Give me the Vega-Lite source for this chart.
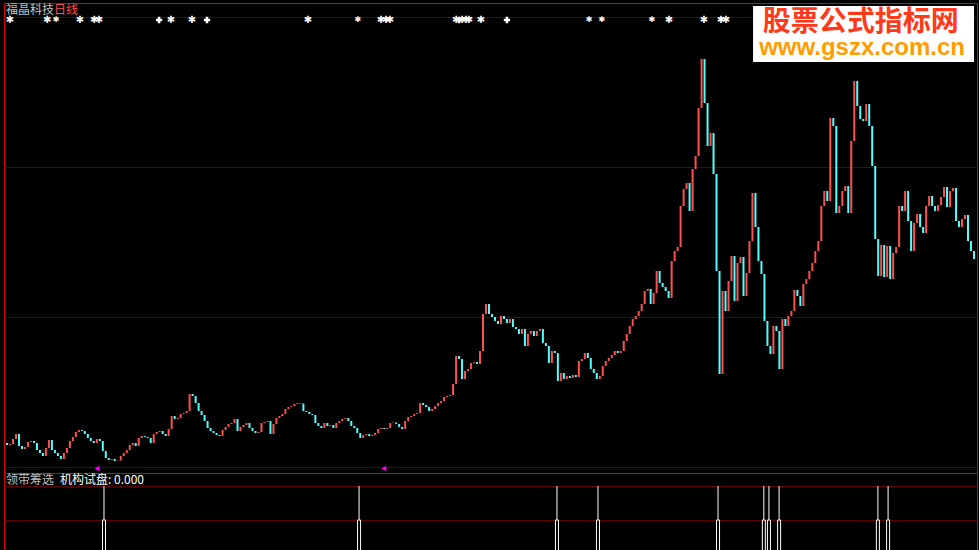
{
"$schema": "https://vega.github.io/schema/vega-lite/v6.json",
"background": "#000000",
"padding": {"left": 3, "top": 2, "right": 2, "bottom": 0},
"spacing": 0,
"bounds": "flush",
"config": {"view": {"stroke": "#e00000", "strokeWidth": 1}, "text": {"font": "Noto Sans CJK SC"}},
"datasets": {
"price": [
{"d":0,"c":5.4},{"d":1,"c":5.2},{"d":2,"c":5.3},{"d":3,"c":5.8},{"d":4,"c":6.3},{"d":5,"c":5.1},{"d":6,"c":4.8},{"d":7,"c":5.0},{"d":8,"c":5.5},{"d":9,"c":5.6},
{"d":10,"c":5.4},{"d":11,"c":4.7},{"d":12,"c":4.4},{"d":13,"c":4.1},{"d":14,"c":4.9},{"d":15,"c":5.7},{"d":16,"c":4.7},{"d":17,"c":4.4},{"d":18,"c":4.1},{"d":19,"c":3.8},
{"d":20,"c":4.4},{"d":21,"c":4.9},{"d":22,"c":5.6},{"d":23,"c":6.0},{"d":24,"c":6.5},{"d":25,"c":6.7},{"d":26,"c":6.6},{"d":27,"c":6.3},{"d":28,"c":5.9},{"d":29,"c":5.6},
{"d":30,"c":5.4},{"d":31,"c":5.8},{"d":32,"c":5.6},{"d":33,"c":4.6},{"d":34,"c":3.9},{"d":35,"c":3.7},{"d":36,"c":3.8},{"d":37,"c":3.6},{"d":38,"c":3.65},{"d":39,"c":4.1},
{"d":40,"c":4.4},{"d":41,"c":4.7},{"d":42,"c":5.2},{"d":43,"c":5.4},{"d":44,"c":5.1},{"d":45,"c":5.9},{"d":46,"c":6.1},{"d":47,"c":6.0},{"d":48,"c":5.9},{"d":49,"c":5.4},
{"d":50,"c":6.3},{"d":51,"c":6.5},{"d":52,"c":6.6},{"d":53,"c":6.3},{"d":54,"c":6.1},{"d":55,"c":6.8},{"d":56,"c":8.1},{"d":57,"c":7.8},{"d":58,"c":7.9},{"d":59,"c":8.3},
{"d":60,"c":8.4},{"d":61,"c":8.6},{"d":62,"c":10.3},{"d":63,"c":10.1},{"d":64,"c":9.4},{"d":65,"c":8.6},{"d":66,"c":8.2},{"d":67,"c":7.6},{"d":68,"c":6.9},{"d":69,"c":6.6},
{"d":70,"c":6.4},{"d":71,"c":6.2},{"d":72,"c":6.1},{"d":73,"c":6.7},{"d":74,"c":7.0},{"d":75,"c":7.3},{"d":76,"c":7.4},{"d":77,"c":7.8},{"d":78,"c":6.6},{"d":79,"c":7.0},
{"d":80,"c":7.2},{"d":81,"c":7.4},{"d":82,"c":6.9},{"d":83,"c":6.6},{"d":84,"c":6.4},{"d":85,"c":6.5},{"d":86,"c":7.4},{"d":87,"c":7.5},{"d":88,"c":7.6},{"d":89,"c":6.3},
{"d":90,"c":7.3},{"d":91,"c":7.9},{"d":92,"c":8.1},{"d":93,"c":8.3},{"d":94,"c":8.8},{"d":95,"c":9.0},{"d":96,"c":9.1},{"d":97,"c":9.3},{"d":98,"c":9.4},{"d":99,"c":9.35},
{"d":100,"c":8.6},{"d":101,"c":8.5},{"d":102,"c":8.3},{"d":103,"c":8.2},{"d":104,"c":7.4},{"d":105,"c":7.1},{"d":106,"c":6.9},{"d":107,"c":7.4},{"d":108,"c":7.1},{"d":109,"c":7.2},
{"d":110,"c":6.9},{"d":111,"c":7.4},{"d":112,"c":7.6},{"d":113,"c":7.8},{"d":114,"c":7.9},{"d":115,"c":7.6},{"d":116,"c":7.1},{"d":117,"c":6.9},{"d":118,"c":6.4},{"d":119,"c":5.9},
{"d":120,"c":6.2},{"d":121,"c":6.3},{"d":122,"c":6.1},{"d":123,"c":6.2},{"d":124,"c":6.4},{"d":125,"c":6.8},{"d":126,"c":6.9},{"d":127,"c":6.8},{"d":128,"c":6.9},{"d":129,"c":7.4},
{"d":130,"c":7.45},{"d":131,"c":7.3},{"d":132,"c":7.0},{"d":133,"c":6.8},{"d":134,"c":7.6},{"d":135,"c":8.0},{"d":136,"c":8.1},{"d":137,"c":8.3},{"d":138,"c":8.4},{"d":139,"c":9.4},
{"d":140,"c":9.2},{"d":141,"c":9.0},{"d":142,"c":8.6},{"d":143,"c":8.8},{"d":144,"c":9.1},{"d":145,"c":9.4},{"d":146,"c":9.6},{"d":147,"c":10.0},{"d":148,"c":10.1},{"d":149,"c":10.2},
{"d":150,"c":11.3},{"d":151,"c":14.1},{"d":152,"c":13.8},{"d":153,"c":11.8},{"d":154,"c":12.6},{"d":155,"c":12.8},{"d":156,"c":13.4},{"d":157,"c":13.5},{"d":158,"c":13.3},{"d":159,"c":14.6},
{"d":160,"c":18.3},{"d":161,"c":19.3},{"d":162,"c":18.3},{"d":163,"c":18.0},{"d":164,"c":17.6},{"d":165,"c":17.3},{"d":166,"c":18.1},{"d":167,"c":17.8},{"d":168,"c":17.4},{"d":169,"c":17.8},
{"d":170,"c":17.0},{"d":171,"c":16.8},{"d":172,"c":16.3},{"d":173,"c":16.8},{"d":174,"c":15.1},{"d":175,"c":16.3},{"d":176,"c":16.6},{"d":177,"c":16.1},{"d":178,"c":16.6},{"d":179,"c":16.8},
{"d":180,"c":15.4},{"d":181,"c":15.1},{"d":182,"c":13.4},{"d":183,"c":14.6},{"d":184,"c":14.4},{"d":185,"c":11.6},{"d":186,"c":12.4},{"d":187,"c":11.8},{"d":188,"c":12.1},{"d":189,"c":11.9},
{"d":190,"c":12.2},{"d":191,"c":12.0},{"d":192,"c":13.6},{"d":193,"c":13.8},{"d":194,"c":14.4},{"d":195,"c":13.9},{"d":196,"c":12.8},{"d":197,"c":12.4},{"d":198,"c":11.8},{"d":199,"c":12.1},
{"d":200,"c":13.1},{"d":201,"c":13.6},{"d":202,"c":13.9},{"d":203,"c":14.2},{"d":204,"c":14.6},{"d":205,"c":14.4},{"d":206,"c":14.6},{"d":207,"c":15.6},{"d":208,"c":16.3},{"d":209,"c":17.1},
{"d":210,"c":17.8},{"d":211,"c":18.1},{"d":212,"c":18.6},{"d":213,"c":19.3},{"d":214,"c":20.6},{"d":215,"c":20.8},{"d":216,"c":19.3},{"d":217,"c":20.4},{"d":218,"c":22.6},{"d":219,"c":21.4},
{"d":220,"c":21.0},{"d":221,"c":20.6},{"d":222,"c":19.9},{"d":223,"c":23.6},{"d":224,"c":24.6},{"d":225,"c":25.0},{"d":226,"c":29.1},{"d":227,"c":30.8},{"d":228,"c":31.4},{"d":229,"c":28.6},
{"d":230,"c":32.8},{"d":231,"c":34.1},{"d":232,"c":38.9},{"d":233,"c":43.8},{"d":234,"c":39.4},{"d":235,"c":35.1},{"d":236,"c":36.4},{"d":237,"c":32.3},{"d":238,"c":22.6},{"d":239,"c":12.3},
{"d":240,"c":20.6},{"d":241,"c":18.6},{"d":242,"c":21.6},{"d":243,"c":24.1},{"d":244,"c":19.6},{"d":245,"c":23.4},{"d":246,"c":24.0},{"d":247,"c":20.1},{"d":248,"c":22.4},{"d":249,"c":25.6},
{"d":250,"c":30.4},{"d":251,"c":27.0},{"d":252,"c":23.6},{"d":253,"c":22.3},{"d":254,"c":17.6},{"d":255,"c":15.1},{"d":256,"c":14.3},{"d":257,"c":17.1},{"d":258,"c":16.6},{"d":259,"c":12.8},
{"d":260,"c":17.8},{"d":261,"c":17.1},{"d":262,"c":18.1},{"d":263,"c":18.6},{"d":264,"c":20.7},{"d":265,"c":20.1},{"d":266,"c":19.1},{"d":267,"c":21.3},{"d":268,"c":21.8},{"d":269,"c":22.6},
{"d":270,"c":23.4},{"d":271,"c":24.6},{"d":272,"c":25.6},{"d":273,"c":29.1},{"d":274,"c":30.6},{"d":275,"c":29.6},{"d":276,"c":37.9},{"d":277,"c":37.1},{"d":278,"c":28.4},{"d":279,"c":29.1},
{"d":280,"c":30.6},{"d":281,"c":31.1},{"d":282,"c":28.4},{"d":283,"c":35.6},{"d":284,"c":41.6},{"d":285,"c":39.1},{"d":286,"c":37.8},{"d":287,"c":37.6},{"d":288,"c":39.3},{"d":289,"c":37.1},
{"d":290,"c":33.1},{"d":291,"c":25.8},{"d":292,"c":22.1},{"d":293,"c":25.2},{"d":294,"c":22.0},{"d":295,"c":25.1},{"d":296,"c":21.8},{"d":297,"c":24.4},{"d":298,"c":25.0},{"d":299,"c":29.1},
{"d":300,"c":28.6},{"d":301,"c":30.6},{"d":302,"c":27.6},{"d":303,"c":24.6},{"d":304,"c":27.4},{"d":305,"c":28.3},{"d":306,"c":27.0},{"d":307,"c":26.4},{"d":308,"c":29.1},{"d":309,"c":30.1},
{"d":310,"c":29.1},{"d":311,"c":28.6},{"d":312,"c":29.2},{"d":313,"c":30.0},{"d":314,"c":31.0},{"d":315,"c":29.0},{"d":316,"c":30.6},{"d":317,"c":30.9},{"d":318,"c":27.6},{"d":319,"c":27.0},
{"d":320,"c":27.8},{"d":321,"c":28.2},{"d":322,"c":25.6},{"d":323,"c":24.6},{"d":324,"c":23.8}
],
"signals": [
{"d":2.0,"kind":"star"},{"d":14.4,"kind":"star"},{"d":17.4,"kind":"narrow"},{"d":25.4,"kind":"star"},{"d":30.1,"kind":"star"},{"d":31.7,"kind":"star"},
{"d":51.8,"kind":"plus"},{"d":55.8,"kind":"star"},{"d":62.8,"kind":"star"},{"d":67.8,"kind":"plus"},{"d":101.5,"kind":"star"},{"d":118.2,"kind":"narrow"},
{"d":125.9,"kind":"star"},{"d":127.6,"kind":"star"},{"d":128.9,"kind":"star"},{"d":151.0,"kind":"star"},{"d":152.0,"kind":"plus"},{"d":153.0,"kind":"star"},
{"d":154.3,"kind":"star"},{"d":155.3,"kind":"star"},{"d":159.3,"kind":"star"},{"d":168.0,"kind":"plus"},{"d":195.4,"kind":"narrow"},{"d":199.7,"kind":"narrow"},
{"d":216.4,"kind":"narrow"},{"d":222.1,"kind":"star"},{"d":233.8,"kind":"star"},{"d":239.5,"kind":"star"},{"d":241.1,"kind":"star"}
],
"arrows": [{"d":31.1},{"d":126.9}],
"spikes": [{"d":33.4},{"d":118.6},{"d":184.7},{"d":198.4},{"d":238.5},{"d":253.8},{"d":255.5},{"d":258.9},{"d":291.9},{"d":295.3}]
},
"vconcat": [
{
"width": 973, "height": 470,
"layer": [
{
"data": {"name": "price"},
"transform": [{"window": [{"op": "lag", "field": "c", "as": "o"}]}, {"filter": "datum.o != null"}],
"mark": {"type": "bar", "width": 2},
"encoding": {
"x": {"field": "d", "type": "quantitative", "scale": {"domain": [0, 325], "nice": false, "zero": false, "padding": 0}, "axis": null},
"y": {"field": "o", "type": "quantitative", "scale": {"domain": [2.4, 49.4], "nice": false, "zero": false, "padding": 0},
"axis": {"values": [3, 18, 33, 48], "grid": true, "gridColor": "#600000", "gridWidth": 1, "labels": false, "ticks": false, "domain": false, "title": null}},
"y2": {"field": "c"},
"color": {"condition": {"test": "datum.c >= datum.o", "value": "#ff5050"}, "value": "#50ffff"}
}
},
{
"data": {"name": "signals"},
"transform": [{"filter": "datum.kind == 'star'"}],
"mark": {"type": "text", "text": "✱", "font": "DejaVu Sans", "fontSize": 10, "fontWeight": "bold", "color": "#ffffff", "baseline": "middle", "align": "center"},
"encoding": {"x": {"field": "d", "type": "quantitative"}, "y": {"datum": 47.7}}
},
{
"data": {"name": "signals"},
"transform": [{"filter": "datum.kind == 'narrow'"}],
"mark": {"type": "text", "text": "✱", "font": "DejaVu Sans", "fontSize": 8, "fontWeight": "bold", "color": "#ffffff", "baseline": "middle", "align": "center"},
"encoding": {"x": {"field": "d", "type": "quantitative"}, "y": {"datum": 47.7}}
},
{
"data": {"name": "signals"},
"transform": [{"filter": "datum.kind == 'plus'"}],
"mark": {"type": "point", "shape": "cross", "filled": true, "size": 40, "color": "#ffffff", "opacity": 1},
"encoding": {"x": {"field": "d", "type": "quantitative"}, "y": {"datum": 47.7}}
},
{
"data": {"name": "arrows"},
"mark": {"type": "point", "shape": "triangle-left", "filled": true, "size": 30, "color": "#ff00ff", "opacity": 1},
"encoding": {"x": {"field": "d", "type": "quantitative"}, "y": {"datum": 2.85}}
},
{
"data": {"values": [{"t": "福晶科技"}]},
"mark": {"type": "text", "fontSize": 12, "color": "#c0c0c0", "align": "left", "baseline": "middle"},
"encoding": {"x": {"datum": 0.67}, "y": {"datum": 48.7}, "text": {"field": "t"}}
},
{
"data": {"values": [{"t": "日线"}]},
"mark": {"type": "text", "fontSize": 12, "color": "#ff5050", "align": "left", "baseline": "middle"},
"encoding": {"x": {"datum": 16.7}, "y": {"datum": 48.7}, "text": {"field": "t"}}
},
{
"data": {"values": [{"a": 1}]},
"mark": {"type": "rect", "color": "#ffffff"},
"encoding": {"x": {"datum": 250.2}, "x2": {"datum": 324.0}, "y": {"datum": 49.1}, "y2": {"datum": 43.5}}
},
{
"data": {"values": [{"t": "股票公式指标网"}]},
"mark": {"type": "text", "fontSize": 28, "fontWeight": "bold", "color": "#ff3a1a", "align": "center", "baseline": "middle"},
"encoding": {"x": {"datum": 286.2}, "y": {"datum": 47.4}, "text": {"field": "t"}}
},
{
"data": {"values": [{"t": "www.gszx.com.cn"}]},
"mark": {"type": "text", "font": "Liberation Sans", "fontSize": 24, "fontWeight": "bold", "color": "#ff9c00", "align": "center", "baseline": "middle"},
"encoding": {"x": {"datum": 286.6}, "y": {"datum": 44.95}, "text": {"field": "t"}}
}
]
},
{
"width": 973, "height": 81,
"layer": [
{
"data": {"name": "spikes"},
"mark": {"type": "rule", "color": "#ffffff", "strokeWidth": 1},
"encoding": {
"x": {"field": "d", "type": "quantitative", "scale": {"domain": [0, 325], "nice": false, "zero": false, "padding": 0}, "axis": null},
"y": {"datum": 1, "type": "quantitative", "scale": {"domain": [0, 2.382], "nice": false, "padding": 0},
"axis": {"values": [1, 2], "grid": true, "gridColor": "#600000", "labels": false, "ticks": false, "domain": false, "title": null}},
"y2": {"datum": 2}
}
},
{
"data": {"name": "spikes"},
"mark": {"type": "bar", "width": 3, "fill": null, "fillOpacity": 0, "stroke": "#ffffff", "strokeWidth": 1},
"encoding": {"x": {"field": "d", "type": "quantitative"}, "y": {"datum": 0}, "y2": {"datum": 1}}
},
{
"data": {"values": [{"t": "领带筹选"}]},
"mark": {"type": "text", "fontSize": 12, "color": "#c0c0c0", "align": "left", "baseline": "middle"},
"encoding": {"x": {"datum": 0.67}, "y": {"datum": 2.176}, "text": {"field": "t"}}
},
{
"data": {"values": [{"t": "机构试盘: 0.000"}]},
"mark": {"type": "text", "fontSize": 12, "color": "#ffffff", "align": "left", "baseline": "middle"},
"encoding": {"x": {"datum": 18.7}, "y": {"datum": 2.176}, "text": {"field": "t"}}
}
]
}
]
}
